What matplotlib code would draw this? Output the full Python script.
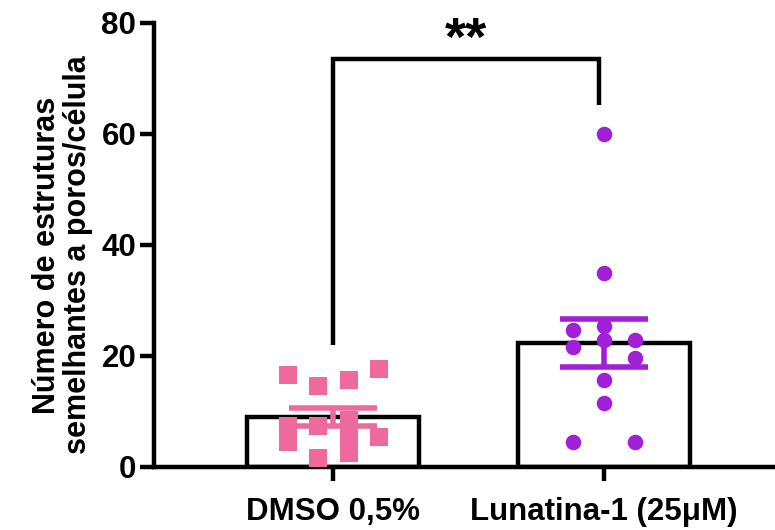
import numpy as np
import matplotlib
matplotlib.use('Agg')
import matplotlib.pyplot as plt

plt.rcParams['font.family'] = ['Liberation Sans', 'DejaVu Sans']
plt.rcParams['font.weight'] = 'bold'

groups = ['DMSO 0,5%', 'Lunatina-1 (25μM)']

dmso = [16.6, 7.4, 4.5, 14.6, 7.4, 1.6, 15.7, 8.5, 5.4, 2.5, 17.7, 5.4]
lunatina = [60, 35, 24.7, 25.3, 21.6, 22.9, 22.9, 19.6, 15.7, 11.5, 4.5, 4.5]

# horizontal scatter of the dots (same order as the values)
dmso_jit = [-0.166, -0.166, -0.166, -0.055, -0.055, -0.055,
            0.059, 0.059, 0.059, 0.059, 0.17, 0.17]
lun_jit = [0, 0, -0.114, 0, -0.114, 0, 0.114, 0.114, 0, 0, -0.114, 0.114]

pink = '#EF6A9C'
purple = '#A21FD8'

fig = plt.figure(figsize=(7.75, 5.3), dpi=100)
fig.subplots_adjust(left=0.199, right=1.0, bottom=0.119, top=0.957)
ax = plt.axes()

data = [dmso, lunatina]
jits = [dmso_jit, lun_jit]
colors = [pink, purple]
markers = ['s', 'o']
sizes = [150, 125]

for i, vals in enumerate(data):
    vals = np.array(vals)
    mean = vals.mean()
    sem = vals.std(ddof=1) / np.sqrt(len(vals))
    ax.bar(i, mean, width=0.635, color='white', edgecolor='black',
           linewidth=3.2, zorder=1)
    ax.scatter(i + np.array(jits[i]), vals, marker=markers[i], s=sizes[i],
               color=colors[i], linewidths=0, zorder=3)
    ax.errorbar(i, mean, yerr=sem, color=colors[i], elinewidth=4,
                capsize=32, capthick=4, zorder=4)

# significance bracket
ax.plot([0, 0, 0.98, 0.98], [22, 73.5, 73.5, 65.2], color='black',
        linewidth=3.2, solid_capstyle='butt', solid_joinstyle='miter',
        zorder=2, clip_on=False)
ax.text(0.49, 76.8, '**', ha='center', va='center', fontsize=39,
        fontweight='bold')

ax.set_xlim(-0.66, 1.63)
ax.set_ylim(0, 80)
ax.set_yticks([0, 20, 40, 60, 80])
ax.set_xticks([0, 1])
ax.set_xticklabels(groups)

for s in ['top', 'right']:
    ax.spines[s].set_visible(False)
for s in ['left', 'bottom']:
    ax.spines[s].set_linewidth(3.2)

ax.tick_params(axis='both', length=10, width=3.2, labelsize=22.5)
ax.tick_params(axis='x', pad=12)
ax.tick_params(axis='y', pad=3)

ax.set_ylabel('Número de estruturas\nsemelhantes a poros/célula',
              fontsize=22, fontweight='bold', labelpad=6, linespacing=1.05)
ax.yaxis.label.set_y(0.477)

fig.savefig('out.png')
